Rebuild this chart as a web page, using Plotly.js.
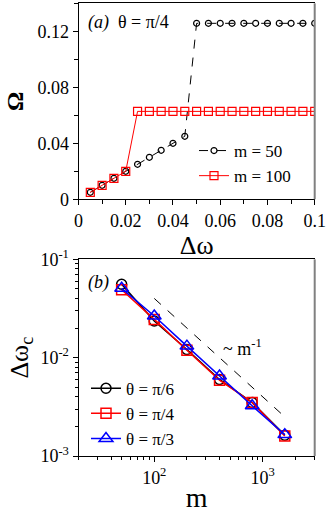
<!DOCTYPE html>
<html>
<head>
<meta charset="utf-8">
<script src="https://cdn.plot.ly/plotly-3.0.1.min.js"></script>
<style>html,body{margin:0;padding:0;background:#fff;}#plot{width:327px;height:513px;}</style>
</head>
<body>
<div id="plot"></div>
<script>
// Panel (a): Omega vs delta omega, theta = pi/4
var dOmega = [0.005,0.01,0.015,0.02,0.025,0.03,0.035,0.04,0.045,0.05,0.055,0.06,0.065,0.07,0.075,0.08,0.085,0.09,0.095,0.1];
var omegaM50 = [0.005,0.01,0.015,0.02,0.025,0.03,0.035,0.04,0.045,0.1257,0.1257,0.1257,0.1257,0.1257,0.1257,0.1257,0.1257,0.1257,0.1257,0.1257];
var omegaM100 = [0.005,0.01,0.015,0.02,0.0628,0.0628,0.0628,0.0628,0.0628,0.0628,0.0628,0.0628,0.0628,0.0628,0.0628,0.0628,0.0628,0.0628,0.0628,0.0628];

// Panel (b): critical delta omega vs m
var mVals = [50,100,200,400,800,1600];
var dwcPi6 = [0.0557,0.0236,0.0121,0.0060,0.0035,0.00163];
var dwcPi4 = [0.0490,0.0245,0.0119,0.0059,0.0035,0.00160];
var dwcPi3 = [0.0507,0.0265,0.0131,0.0065,0.00324,0.00165];
var refM = [100,1600];
var refVal = [0.04,0.0025];

var font = 'Liberation Serif';
var W = 327, H = 513;
var xL = 78.5/W, xR = 314.7/W;
var topDom = [1-199.3/H, 1-3.3/H];
var botDom = [1-456/H, 1-259.3/H];

var traces = [
  {x: dOmega, y: omegaM50, xaxis:'x', yaxis:'y', mode:'lines+markers', name:'m = 50', legend:'legend',
   line:{color:'#000', width:1, dash:'dash'}, marker:{symbol:'circle-open', size:6, color:'#000', line:{width:1.2}}},
  {x: dOmega, y: omegaM100, xaxis:'x', yaxis:'y', mode:'lines+markers', name:'m = 100', legend:'legend',
   line:{color:'#ff0000', width:1}, marker:{symbol:'square-open', size:8, color:'#ff0000', line:{width:1.2}}},
  {x: refM, y: refVal, xaxis:'x2', yaxis:'y2', mode:'lines', showlegend:false,
   line:{color:'#000', width:1, dash:'dash'}},
  {x: mVals, y: dwcPi6, xaxis:'x2', yaxis:'y2', mode:'lines+markers', name:'θ = π/6', legend:'legend2',
   line:{color:'#000', width:1.5}, marker:{symbol:'circle-open', size:10, color:'#000', line:{width:1.5}}},
  {x: mVals, y: dwcPi4, xaxis:'x2', yaxis:'y2', mode:'lines+markers', name:'θ = π/4', legend:'legend2',
   line:{color:'#ff0000', width:1.5}, marker:{symbol:'square-open', size:10, color:'#ff0000', line:{width:1.5}}},
  {x: mVals, y: dwcPi3, xaxis:'x2', yaxis:'y2', mode:'lines+markers', name:'θ = π/3', legend:'legend2',
   line:{color:'#0000ff', width:1.5}, marker:{symbol:'triangle-up-open', size:12, color:'#0000ff', line:{width:1.5}}}
];

var axBase = {showgrid:false, zeroline:false, showline:true, linecolor:'#000', linewidth:1,
  ticks:'outside', ticklen:5, tickwidth:1, tickcolor:'#000',
  tickfont:{family:font, size:18, color:'#000'}, automargin:false};

var layout = {
  width: W, height: H,
  margin:{l:0,r:0,t:0,b:0},
  paper_bgcolor:'#fff', plot_bgcolor:'#fff',
  font:{family:font, color:'#000'},
  xaxis: Object.assign({}, axBase, {domain:[xL,xR], anchor:'y', range:[0,0.1], dtick:0.02, tick0:0, mirror:true,
    minor:{dtick:0.01, ticks:'outside', ticklen:4, tickcolor:'#000'},
    title:{text:'Δω', font:{family:font, size:26}, standoff:2}}),
  yaxis: Object.assign({}, axBase, {domain:topDom, anchor:'x', range:[0,0.14], dtick:0.04, tick0:0,
    minor:{dtick:0.02, ticks:'outside', ticklen:4, tickcolor:'#000'},
    title:{text:'<b>Ω</b>', font:{family:font, size:24}, standoff:6}}),
  xaxis2: Object.assign({}, axBase, {domain:[xL,xR], anchor:'y2', type:'log', range:[Math.log10(20), 3.48], mirror:true,
    tickvals:[100,1000], ticktext:['10<sup>2</sup>','10<sup>3</sup>'],
    minor:{tickmode:'array', tickvals:[20,30,40,50,60,70,80,90,200,300,400,500,600,700,800,900,2000,3000], ticks:'outside', ticklen:3, tickcolor:'#000'},
    title:{text:'m', font:{family:font, size:28}, standoff:2}}),
  yaxis2: Object.assign({}, axBase, {domain:botDom, anchor:'x2', type:'log', range:[-3,-1],
    tickvals:[0.001,0.01,0.1], ticktext:['10<sup>-3</sup>','10<sup>-2</sup>','10<sup>-1</sup>'],
    minor:{tickmode:'array', tickvals:[0.002,0.003,0.004,0.005,0.006,0.007,0.008,0.009,0.02,0.03,0.04,0.05,0.06,0.07,0.08,0.09], ticks:'outside', ticklen:3, tickcolor:'#000'},
    title:{text:'Δω<sub>c</sub>', font:{family:font, size:26}, standoff:4}}),
  legend:{x:194/W, xanchor:'left', y:1-163.5/H, yanchor:'middle', bgcolor:'rgba(0,0,0,0)',
    font:{family:font, size:17, color:'#000'}, tracegroupgap:0},
  legend2:{x:86/W, xanchor:'left', y:1-413.7/H, yanchor:'middle', bgcolor:'rgba(0,0,0,0)',
    font:{family:font, size:17, color:'#000'}, tracegroupgap:0},
  shapes:[
    {type:'line', xref:'paper', yref:'paper', x0:xR, x1:xR, y0:topDom[0], y1:topDom[1], line:{color:'#808080', width:2}},
    {type:'line', xref:'paper', yref:'paper', x0:xR, x1:xR, y0:botDom[0], y1:botDom[1], line:{color:'#808080', width:2}}
  ],
  annotations:[
    {xref:'paper', yref:'paper', x:86/W, y:1-23/H, xanchor:'left', yanchor:'middle', showarrow:false,
     text:'<i>(a)</i>  θ = π/4', font:{family:font, size:18, color:'#000'}},
    {xref:'paper', yref:'paper', x:86/W, y:1-282/H, xanchor:'left', yanchor:'middle', showarrow:false,
     text:'<i>(b)</i>', font:{family:font, size:18, color:'#000'}},
    {xref:'paper', yref:'paper', x:221/W, y:1-347/H, xanchor:'left', yanchor:'middle', showarrow:false,
     text:'~ m<sup>-1</sup>', font:{family:font, size:18, color:'#000'}}
  ]
};

Plotly.newPlot('plot', traces, layout, {displayModeBar:false, staticPlot:true});
</script>
</body>
</html>
